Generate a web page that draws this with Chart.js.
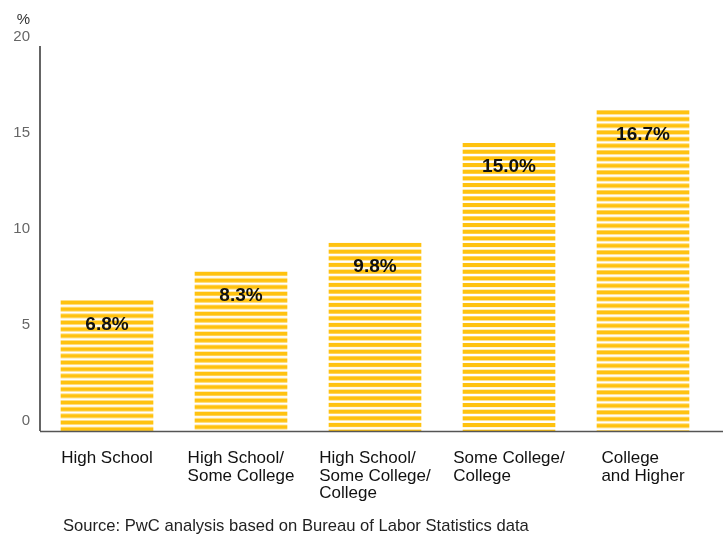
<!DOCTYPE html>
<html>
<head>
<meta charset="utf-8">
<script src="https://cdn.jsdelivr.net/npm/chart.js@4.4.1/dist/chart.umd.min.js"></script>
<style>
  html, body { margin: 0; padding: 0; background: #fff; }
  #wrap { position: relative; width: 728px; height: 539px; }
  #source {
    position: absolute; left: 63px; top: 516px;
    font: 16.6px 'Liberation Sans', Arial, sans-serif; color: #222;
  }
</style>
</head>
<body>
<div id="wrap">
  <canvas id="chart-edu"></canvas>
  <div id="source">Source: PwC analysis based on Bureau of Labor Statistics data</div>
</div>
<script>
// ── Data ───────────────────────────────────────────────────────
const categories = [
  ['High School'],
  ['High School/', 'Some College'],
  ['High School/', 'Some College/', 'College'],
  ['Some College/', 'College'],
  ['College', 'and Higher'],
];
const values     = [6.8, 8.3, 9.8, 15.0, 16.7];
const yTicks     = [0, 5, 10, 15, 20];
const unitLabel  = '%';

const FONT   = "'Liberation Sans', Arial, sans-serif";
const YELLOW = '#ffc20f';

// horizontal stripe tile (3 stripes per 20px)
const stripeTile = (() => {
  const c = document.createElement('canvas');
  c.width = 8; c.height = 20;
  const g = c.getContext('2d');
  g.fillStyle = '#ffffff';
  g.fillRect(0, 0, 8, 20);
  g.fillStyle = YELLOW;
  for (let i = 0; i < 3; i++) g.fillRect(0, i * 20 / 3, 8, 4.1);
  return c;
})();

// one pattern per bar, shifted so every bar starts with a full stripe
function barStripes(ctx) {
  const chart = ctx.chart;
  const y = chart.scales.y;
  const p = chart.ctx.createPattern(stripeTile, 'repeat');
  if (y && ctx.raw != null) {
    const top = y.getPixelForValue(ctx.raw);
    p.setTransform(new DOMMatrix().translate(0, top));
  }
  return p;
}

// axes lines, category labels, value labels, unit label
const decorations = {
  id: 'decorations',
  afterDatasetsDraw(chart) {
    const { ctx, chartArea, scales } = chart;
    const x = scales.x, y = scales.y;
    const base = y.getPixelForValue(0);
    ctx.save();

    // y axis
    ctx.strokeStyle = '#111';
    ctx.lineWidth = 1.3;
    ctx.beginPath();
    ctx.moveTo(chartArea.left, chartArea.top - 1);
    ctx.lineTo(chartArea.left, base);
    ctx.stroke();

    // x axis, runs a bit past the last category
    ctx.strokeStyle = '#555';
    ctx.beginPath();
    ctx.moveTo(chartArea.left, base + 0.5);
    ctx.lineTo(chart.width - 5, base + 0.5);
    ctx.stroke();

    // value labels inside bars
    ctx.fillStyle = '#111';
    ctx.font = `bold 19px ${FONT}`;
    ctx.textAlign = 'center';
    ctx.textBaseline = 'middle';
    chart.getDatasetMeta(0).data.forEach((bar, i) => {
      ctx.fillText(values[i].toFixed(1) + '%', bar.x, bar.y + 24);
    });

    // category labels: block centred under bar, lines left aligned
    ctx.font = `17px ${FONT}`;
    ctx.textAlign = 'left';
    ctx.textBaseline = 'alphabetic';
    categories.forEach((lines, i) => {
      const cx = x.getPixelForValue(i);
      const w = Math.max(...lines.map((l) => ctx.measureText(l).width));
      lines.forEach((l, j) => ctx.fillText(l, cx - w / 2, 463 + j * 17.5));
    });

    // unit label
    ctx.fillStyle = '#333';
    ctx.font = `15px ${FONT}`;
    ctx.textAlign = 'right';
    ctx.fillText(unitLabel, 30, 24);

    ctx.restore();
  },
};

new Chart(document.getElementById('chart-edu'), {
  type: 'bar',
  data: {
    labels: categories,
    datasets: [{
      data:            values,
      backgroundColor: barStripes,
      borderWidth:     0,
      barThickness:    92,
    }],
  },
  options: {
    responsive:          true,
    maintainAspectRatio: false,
    animation:           false,
    layout: { padding: { top: 47, right: 18, bottom: 108, left: 0 } },
    plugins: {
      legend:  { display: false },
      tooltip: { enabled: false },
    },
    scales: {
      x: {
        grid:   { display: false },
        border: { display: false },
        ticks:  { display: false },
        afterFit: (s) => { s.height = 0; },
      },
      y: {
        min: 0,
        max: 20,
        grid:   { display: false, drawTicks: false },
        border: { display: false },
        afterFit: (s) => { s.width = 40; },
        afterBuildTicks: (s) => { s.ticks = yTicks.map((v) => ({ value: v })); },
        ticks: {
          padding:     10,
          labelOffset: -10,
          color:       '#666',
          font:        { family: FONT, size: 15 },
        },
      },
    },
  },
  plugins: [decorations],
});
</script>
</body>
</html>
